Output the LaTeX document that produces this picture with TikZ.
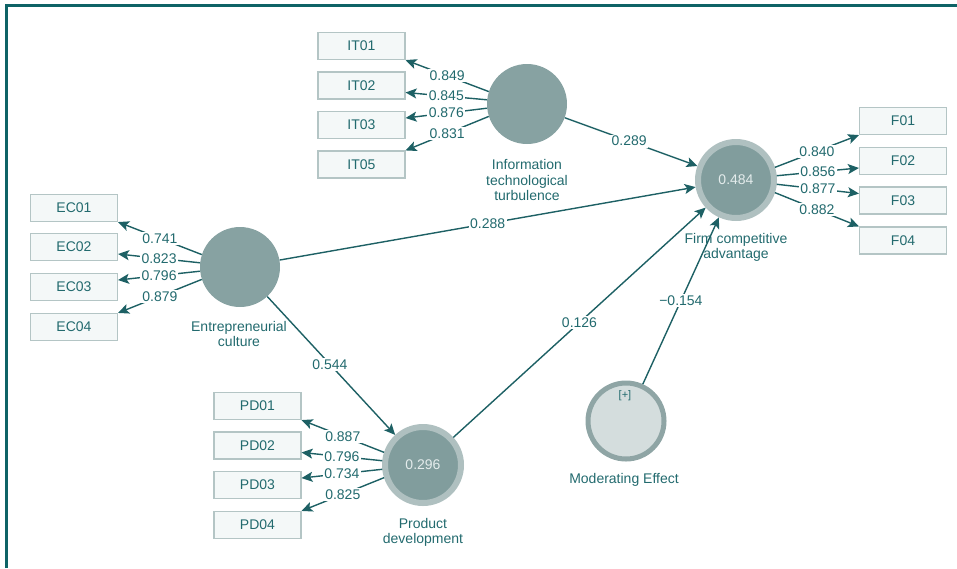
\documentclass[tikz,border=0pt]{standalone}
\usepackage{fontspec}
\setmainfont{Liberation Sans}
\usetikzlibrary{arrows.meta}
\definecolor{tealln}{HTML}{1D6064}
\definecolor{txt}{HTML}{226A6E}
\definecolor{boxd}{HTML}{B4C5C5}
\definecolor{boxf}{HTML}{F4F8F8}
\definecolor{latf}{HTML}{87A2A2}
\definecolor{ringo}{HTML}{AFC0C0}
\definecolor{ringi}{HTML}{819D9D}
\definecolor{modr}{HTML}{8FA5A5}
\definecolor{modf}{HTML}{D4DDDD}
\definecolor{frm}{HTML}{0E6366}
\definecolor{valtxt}{HTML}{E4ECEC}
\begin{document}
\begin{tikzpicture}[x=1pt,y=-1pt,
 font=\fontsize{14}{15.5}\selectfont,
 ind/.style={draw=boxd, line width=1.1pt, fill=boxf, minimum width=87pt, minimum height=27pt, inner sep=0pt, text=txt},
 lat/.style={circle, fill=latf, minimum size=80pt, inner sep=0pt},
 endo/.style={circle, draw=ringo, line width=6pt, fill=ringi, minimum size=76pt, inner sep=0pt, text=valtxt},
 modc/.style={circle, draw=modr, line width=5pt, fill=modf, minimum size=76pt, inner sep=0pt},
 lbl/.style={text=txt, align=center, inner sep=0pt},
 arr/.style={draw=tealln, line width=1.4pt, -{Stealth[length=11pt,width=10pt,inset=2.5pt]}},
 ld/.style={fill=white, text=txt, inner sep=1.5pt, pos=0.5}
]
\useasboundingbox (0,0) rectangle (957,568);
\draw[frm, line width=3pt] (6.5,568) -- (6.5,5.5) -- (957,5.5);

% latent variables
\node[lat] (itc) at (527,104) {};
\node[lbl] (itl) at (527,180) {Information\\technological\\turbulence};
\node[lat] (ecc) at (240,267) {};
\node[lbl] (ecl) at (239,334) {Entrepreneurial\\culture};
\node[endo] (fca) at (736,180) {0.484};
\node[lbl] (fcal) at (736,247.5) {Firm competitive\\advantage};
\node[endo] (pdc) at (423,465) {0.296};
\node[lbl] (pdl) at (423,532.5) {Product\\development};
\node[modc] (mod) at (626,421) {};
\node[lbl, font=\fontsize{11}{13}\selectfont] (plus) at (625,396) {[+]};
\node[lbl] (modl) at (624,480) {Moderating Effect};

% indicators
\node[ind] (it1) at (361.5,46) {IT01};
\node[ind] (it2) at (361.5,85.5) {IT02};
\node[ind] (it3) at (361.5,125) {IT03};
\node[ind] (it5) at (361.5,164.5) {IT05};
\node[ind] (ec1) at (74,208) {EC01};
\node[ind] (ec2) at (74,247) {EC02};
\node[ind] (ec3) at (74,287) {EC03};
\node[ind] (ec4) at (74,327) {EC04};
\node[ind] (pd1) at (257.5,406) {PD01};
\node[ind] (pd2) at (257.5,445.5) {PD02};
\node[ind] (pd3) at (257.5,485) {PD03};
\node[ind] (pd4) at (257.5,525) {PD04};
\node[ind] (f1) at (903,121) {F01};
\node[ind] (f2) at (903,161) {F02};
\node[ind] (f3) at (903,200.5) {F03};
\node[ind] (f4) at (903,240.5) {F04};

% outer loadings
\draw[arr] (itc.162) -- node[ld]{0.849} (it1.south east);
\draw[arr] (itc.174) -- node[ld]{0.845} (it2.-9);
\draw[arr] (itc.186) -- node[ld]{0.876} (it3.9);
\draw[arr] (itc.198) -- node[ld]{0.831} (it5.north east);
\draw[arr] (ecc.162) -- node[ld]{0.741} (ec1.south east);
\draw[arr] (ecc.174) -- node[ld]{0.823} (ec2.-9);
\draw[arr] (ecc.186) -- node[ld]{0.796} (ec3.9);
\draw[arr] (ecc.198) -- node[ld]{0.879} (ec4.north east);
\draw[arr] (pdc.162) -- node[ld]{0.887} (pd1.south east);
\draw[arr] (pdc.174) -- node[ld]{0.796} (pd2.-9);
\draw[arr] (pdc.186) -- node[ld]{0.734} (pd3.9);
\draw[arr] (pdc.198) -- node[ld]{0.825} (pd4.north east);
\draw[arr] (fca.18) -- node[ld]{0.840} (f1.south west);
\draw[arr] (fca.6) -- node[ld]{0.856} (f2.189);
\draw[arr] (fca.-6) -- node[ld]{0.877} (f3.171);
\draw[arr] (fca.-18) -- node[ld]{0.882} (f4.north west);

% structural paths
\draw[arr] (itc) -- node[ld,pos=0.485]{0.289} (fca);
\draw[arr] (ecc) -- node[ld]{0.288} (fca);
\draw[arr] (ecc) -- node[ld,pos=0.49]{0.544} (pdc);
\draw[arr] (pdc) -- node[ld]{0.126} (fca);
\draw[arr] (mod) -- node[ld]{−0.154} (fca);
\end{tikzpicture}
\end{document}
